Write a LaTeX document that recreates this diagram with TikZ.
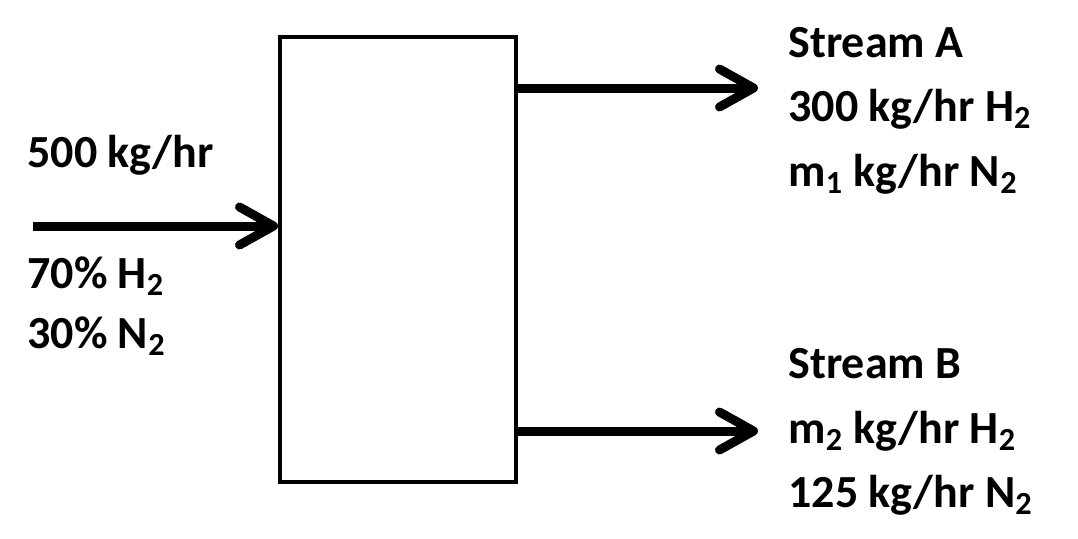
\documentclass[tikz,border=0pt]{standalone}
\usepackage{fontspec}
\setmainfont{Carlito}
\usetikzlibrary{arrows.meta}
\begin{document}
\begin{tikzpicture}[x=0.5pt,y=-0.5pt,
    flow/.style={line width=4.5pt,-{Straight Barb[length=17pt,width=19pt,round]}},
    lbl/.style={anchor=base west,inner sep=0pt,font=\fontsize{23}{27}\selectfont\bfseries}]
    \useasboundingbox (0,0) rectangle (1078,538);
    \node[draw,line width=2pt,minimum width=118pt,minimum height=222.5pt,inner sep=0pt] (unit) at (398,259.5) {};
    \coordinate (feed) at (33,226);
    \coordinate (outA) at (758,88);
    \coordinate (outB) at (758,431);
    \draw[flow] (feed) -- (feed -| unit.west);
    \draw[flow] (unit.east |- outA) -- (outA);
    \draw[flow] (unit.east |- outB) -- (outB);
    \node[lbl] (feedrate) at (27,167) {500 kg/hr};
    \node[lbl] (feedh) at (27,288) {70\% H\textsubscript{2}};
    \node[lbl] (feedn) at (27,348) {30\% N\textsubscript{2}};
    \node[lbl] (nameA) at (788,57) {Stream A};
    \node[lbl] (hA) at (788,121) {300 kg/hr H\textsubscript{2}};
    \node[lbl] (nA) at (788,186) {m\textsubscript{1} kg/hr N\textsubscript{2}};
    \node[lbl] (nameB) at (788,378) {Stream B};
    \node[lbl] (hB) at (788,443) {m\textsubscript{2} kg/hr H\textsubscript{2}};
    \node[lbl] (nB) at (788,507) {125 kg/hr N\textsubscript{2}};
\end{tikzpicture}
\end{document}
